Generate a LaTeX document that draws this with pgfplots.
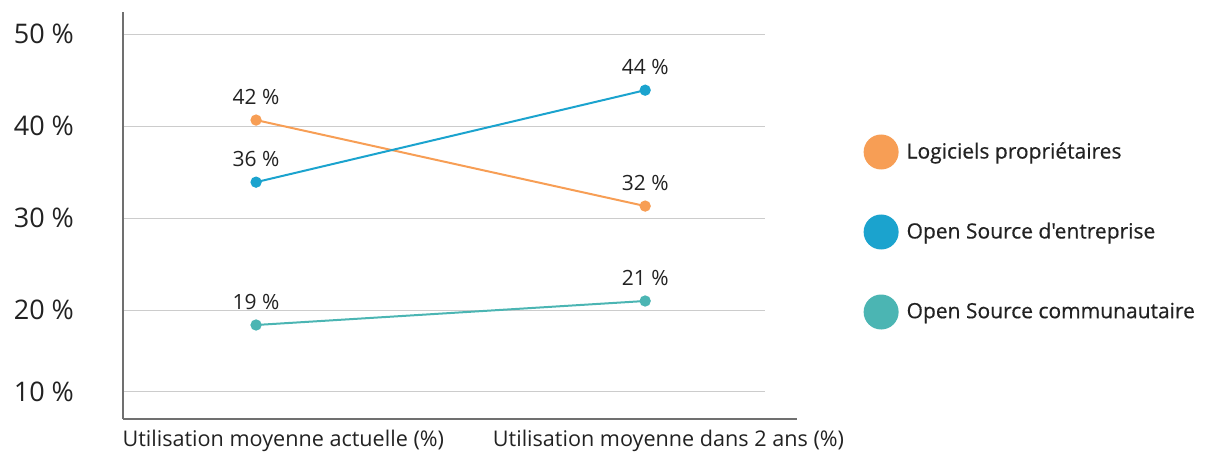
\documentclass[border=0pt]{standalone}
\usepackage{fontspec}
\setmainfont{Open Sans}
\newfontfamily\legendfont[FakeBold=0.5]{Open Sans}
\usepackage{pgfplots}
\pgfplotsset{compat=1.18}
\definecolor{cOrange}{HTML}{F79E55}
\definecolor{cBlue}{HTML}{1BA3CE}
\definecolor{cTeal}{HTML}{4BB5B3}
\definecolor{cText}{HTML}{222222}
\definecolor{cGrid}{HTML}{CCCCCC}
\definecolor{cAxis}{HTML}{707070}
\begin{document}
\begin{tikzpicture}
\begin{axis}[
  scale only axis, width=321pt, height=203.5pt,
  xmin=-0.342, xmax=1.308, ymin=8.15, ymax=52.4,
  axis lines=left,
  axis line style={-, draw=cAxis, line width=1pt},
  x axis line style={shorten >=-16pt},
  major tick length=0pt,
  xtick={0.07,1.06},
  xticklabels={Utilisation moyenne actuelle (\%), Utilisation moyenne dans 2 ans (\%)},
  xticklabel style={font=\fontsize{10.8}{12}\selectfont, text=cText, yshift=-2pt},
  ytick={11.1,20,30,40,50},
  yticklabels={10 \%,20 \%,30 \%,40 \%,50 \%},
  yticklabel style={font=\fontsize{13.5}{15}\selectfont, text=cText, xshift=-21pt},
  ymajorgrids, grid style={cGrid, line width=0.5pt},
  every axis plot/.append style={line width=1pt, mark=*, mark size=2.3pt},
  point meta=explicit symbolic,
  nodes near coords,
  nodes near coords style={font=\fontsize{10.5}{12}\selectfont, text=cText, anchor=center, yshift=11.5pt},
  legend image code/.code={\fill (8.25pt,0pt) circle (8.25pt);},
  legend cell align=left,
  legend style={at={(rel axis cs:1.153,0.70)}, anchor=north west, draw=none, fill=none,
    font=\legendfont\fontsize{10.5}{12}\selectfont, text=cText, row sep=22.5pt, inner sep=0pt,
    /tikz/every odd column/.append style={column sep=2pt}},
]
\addplot[cOrange, mark options={fill=cOrange}] coordinates {(0,40.65) [42 \%] (1,31.3) [32 \%]};
\addlegendentry{Logiciels propriétaires}
\addplot[cBlue, mark options={fill=cBlue}] coordinates {(0,33.9) [36 \%] (1,43.9) [44 \%]};
\addlegendentry{Open Source d'entreprise}
\addplot[cTeal, mark options={fill=cTeal}] coordinates {(0,18.37) [19 \%] (1,20.98) [21 \%]};
\addlegendentry{Open Source communautaire}
\end{axis}
\path[use as bounding box] (-61.5pt,-17pt) rectangle (542.5pt,209.5pt);
\end{tikzpicture}
\end{document}
